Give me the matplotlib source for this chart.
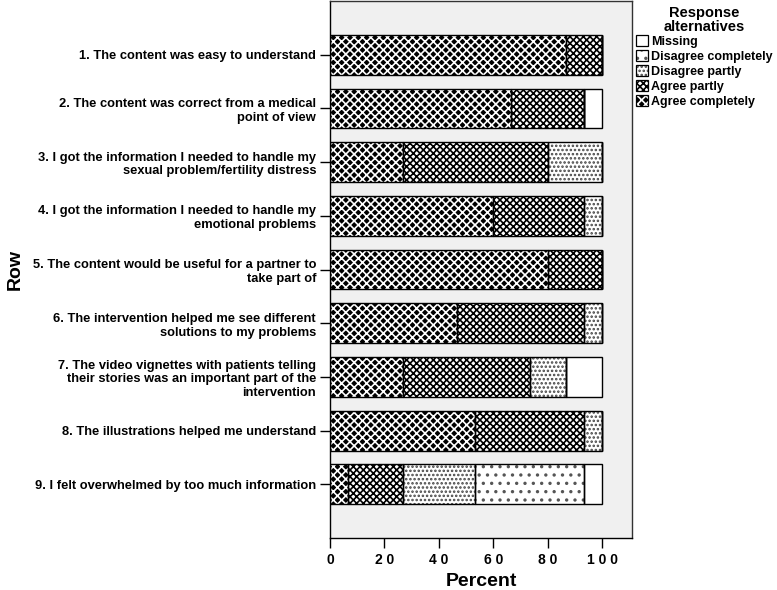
import matplotlib
matplotlib.use("Agg")
import matplotlib.pyplot as plt
from matplotlib.patches import Patch, Rectangle
from matplotlib.legend_handler import HandlerBase
import numpy as np

plt.rcParams['font.family'] = ['Liberation Sans', 'DejaVu Sans']
plt.rcParams['font.weight'] = 'bold'
plt.rcParams['hatch.linewidth'] = 1.2

rows = [
    "1. The content was easy to understand",
    "2. The content was correct from a medical\npoint of view",
    "3. I got the information I needed to handle my\nsexual problem/fertility distress",
    "4. I got the information I needed to handle my\nemotional problems",
    "5. The content would be useful for a partner to\ntake part of",
    "6. The intervention helped me see different\nsolutions to my problems",
    "7. The video vignettes with patients telling\ntheir stories was an important part of the\nintervention",
    "8. The illustrations helped me understand",
    "9. I felt overwhelmed by too much information",
]

agree_completely = [86.7, 66.7, 26.7, 60.0, 80.0, 46.7, 26.7, 53.3, 6.7]
agree_partly = [13.3, 26.7, 53.3, 33.3, 20.0, 46.7, 46.7, 40.0, 20.0]
disagree_partly = [0.0, 0.0, 20.0, 6.7, 0.0, 6.7, 13.3, 6.7, 26.7]
disagree_completely = [0.0, 0.0, 0.0, 0.0, 0.0, 0.0, 0.0, 0.0, 40.0]
missing = [0.0, 6.7, 0.0, 0.0, 0.0, 0.0, 13.3, 0.0, 6.7]

series = [
    ("Agree completely", agree_completely, 'black', 'white', 'xxxx'),
    ("Agree partly", agree_partly, 'white', 'black', 'xxxxx'),
    ("Disagree partly", disagree_partly, 'white', '#444444', '....'),
    ("Disagree completely", disagree_completely, 'white', '#555555', '..'),
    ("Missing", missing, 'white', 'white', ''),
]

fig = plt.figure(figsize=(7.77, 5.9), dpi=100)
ax = fig.add_axes([330/777, 1 - 538/590, (632-330)/777, (538-1)/590])
ax.set_facecolor('#f0f0f0')

y = np.arange(len(rows))
left = np.zeros(len(rows))
h = 0.74
for name, vals, fc, hc, hatch in series:
    vals = np.array(vals)
    ax.barh(y, vals, left=left, height=h, color=fc, edgecolor=hc,
            hatch=hatch, linewidth=0, zorder=2)
    ax.barh(y, vals, left=left, height=h, fill=False, edgecolor='black',
            linewidth=1.0, zorder=3)
    left += vals

ax.set_xlim(0, 111)
ax.set_ylim(8.999, -1)
ax.set_yticks(y)
ax.set_yticklabels(rows, fontsize=9.3, fontweight='bold', ha='right',
                   multialignment='right')
ax.set_xticks([0, 20, 40, 60, 80, 100])
ax.set_xticklabels(['0', '2 0', '4 0', '6 0', '8 0', '1 0 0'], fontsize=10, fontweight='bold')
ax.tick_params(axis='y', length=7, width=1, pad=3)
ax.tick_params(axis='x', length=7, width=1, pad=4)
for sp in ax.spines.values():
    sp.set_linewidth(1.0)
    sp.set_color('#333333')
ax.spines['left'].set_color('black')
ax.spines['bottom'].set_color('black')

ax.set_xlabel('Percent', fontsize=14, fontweight='bold', labelpad=4)
ax.set_ylabel('Row', fontsize=14, fontweight='bold')
ax.yaxis.set_label_coords(-1.015, 0.5)

order = ["Missing", "Disagree completely", "Disagree partly", "Agree partly", "Agree completely"]


class HatchHandler(HandlerBase):
    def __init__(self, fc, hc, hatch):
        super().__init__()
        self.fc, self.hc, self.hatch = fc, hc, hatch

    def create_artists(self, legend, orig_handle, xdescent, ydescent, width, height, fontsize, trans):
        r1 = Rectangle((-xdescent, -ydescent), width, height, facecolor=self.fc,
                       edgecolor=self.hc, hatch=self.hatch, linewidth=0, transform=trans)
        r2 = Rectangle((-xdescent, -ydescent), width, height, fill=False,
                       edgecolor='black', linewidth=0.9, transform=trans)
        return [r1, r2]


proxies = []
hmap = {}
for name in order:
    s = [s for s in series if s[0] == name][0]
    p = Patch(facecolor=s[2])
    proxies.append(p)
    hmap[p] = HatchHandler(s[2], s[3], s[4])

leg = ax.legend(proxies, order, handler_map=hmap, loc='upper left',
                bbox_to_anchor=(1.0, 0.997), frameon=False,
                title='Response\nalternatives', fontsize=9,
                title_fontproperties={'weight': 'bold', 'size': 10.5},
                handlelength=1.0, handleheight=1.0, handletextpad=0.25,
                labelspacing=0.16, borderaxespad=0.1, borderpad=0.2)
leg.get_title().set_multialignment('center')
leg.get_title().set_linespacing(0.95)
leg._legend_box.sep = 1
for t in leg.get_texts():
    t.set_fontweight('bold')

fig.savefig('out.png', dpi=100)
